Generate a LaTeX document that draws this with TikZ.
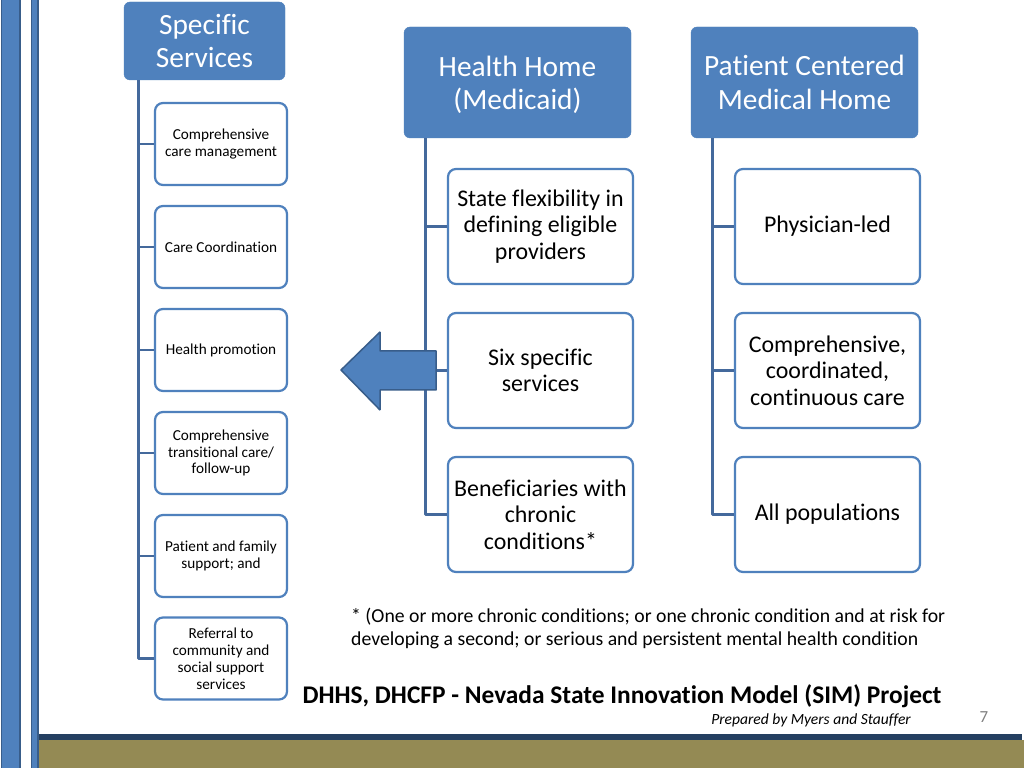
\documentclass[tikz,border=0pt]{standalone}
\usepackage{fontspec}
\setmainfont{Carlito}[Ligatures=NoCommon]
\definecolor{hdrblue}{HTML}{4F81BD}
\definecolor{lineblue}{HTML}{44699C}
\definecolor{edgeblue}{HTML}{385D8A}
\definecolor{navyline}{HTML}{254061}
\definecolor{oliveband}{HTML}{948A54}
\definecolor{pagegray}{HTML}{808080}
\begin{document}
\begin{tikzpicture}[line join=bevel,
  header/.style={rectangle, rounded corners=6bp, fill=hdrblue, draw=hdrblue,
    text=white, align=center, inner sep=0pt, font=\fontsize{29.5}{33.5}\selectfont},
  smallbox/.style={rectangle, rounded corners=8bp, draw=hdrblue, fill=white,
    line width=2.2bp, align=center, inner sep=0pt,
    minimum width=132bp, minimum height=82bp, font=\fontsize{15.3}{17}\selectfont},
  bigbox/.style={smallbox, minimum width=185bp, minimum height=115bp,
    font=\fontsize{24}{26.5}\selectfont},
  conn/.style={draw=lineblue, line width=2.8bp},
  ]
\useasboundingbox (0,0) rectangle (1024bp,768bp);
%% frame
\fill[white] (0,0) rectangle (1024bp,768bp);
\filldraw[fill=hdrblue, draw=edgeblue, line width=1.2bp] (1.5bp,-1bp) rectangle (20bp,769bp);
\filldraw[fill=hdrblue, draw=edgeblue, line width=1.2bp] (31.5bp,-1bp) rectangle (38bp,769bp);
\fill[oliveband] (38.6bp,0) rectangle (1024bp,28bp);
\fill[navyline] (38.6bp,28bp) rectangle (1022bp,34bp);
%%
  % Node: ss
  \node[header, minimum width=161bp, minimum height=78bp] (ss) at (204.5bp,727bp) {Specific\\Services};
  % Node: hh
  \node[header, minimum width=227bp, minimum height=111bp, text depth=0pt] (hh) at (517.5bp,685.5bp) {Health Home\\(Medicaid)};
  % Node: pc
  \node[header, minimum width=227bp, minimum height=111bp] (pc) at (804.5bp,685.5bp) {Patient Centered\\Medical Home};
  % Nodes: ss1 .. ss6
  \node[smallbox] (ss1) at (221bp,624bp) {Comprehensive\\care management};
  \node[smallbox] (ss2) at (221bp,521bp) {Care Coordination};
  \node[smallbox] (ss3) at (221bp,418bp) {Health promotion};
  \node[smallbox] (ss4) at (221bp,315bp) {Comprehensive\\transitional care/\\follow-up};
  \node[smallbox] (ss5) at (221bp,212bp) {Patient and family\\support; and};
  \node[smallbox] (ss6) at (221bp,109.5bp) {Referral to\\community and\\social support\\services};
  % Nodes: hh1 .. hh3
  \node[bigbox] (hh1) at (540.5bp,541.5bp) {State flexibility in\\defining eligible\\providers};
  \node[bigbox] (hh2) at (540.5bp,397.5bp) {Six specific\\services};
  \node[bigbox] (hh3) at (540.5bp,253.5bp) {Beneficiaries with\\chronic\\conditions*};
  % Nodes: pc1 .. pc3
  \node[bigbox] (pc1) at (827.5bp,541.5bp) {Physician-led};
  \node[bigbox] (pc2) at (827.5bp,397.5bp) {Comprehensive,\\coordinated,\\continuous care};
  \node[bigbox] (pc3) at (827.5bp,253.5bp) {All populations};
  % Edges: ss -> ss1 .. ss6
  \foreach \k in {1,...,6}
    \draw[conn] ([xshift=15bp]ss.south west) |- (ss\k.west);
  % Edges: hh -> hh1 .. hh3, pc -> pc1 .. pc3
  \foreach \k in {1,2,3} {
    \draw[conn] ([xshift=22bp]hh.south west) |- (hh\k.west);
    \draw[conn] ([xshift=22bp]pc.south west) |- (pc\k.west);
  }
  % Block arrow
  \filldraw[fill=hdrblue, draw=edgeblue, line width=1.5bp]
    (341bp,398bp) -- (380bp,436bp) -- (380bp,417bp) -- (436bp,417bp)
    -- (436bp,378bp) -- (380bp,378bp) -- (380bp,358bp) -- cycle;
  % Texts
  \node[anchor=west, align=left, inner sep=0pt, font=\fontsize{19.8}{23.5}\selectfont] (note) at (351bp,139.5bp)
    {* (One or more chronic conditions; or one chronic condition and at risk for\\developing a second; or serious and persistent mental health condition};
  \node[inner sep=0pt, font=\bfseries\fontsize{25.5}{28}\selectfont] (title) at (622bp,71.5bp)
    {DHHS, DHCFP - Nevada State Innovation Model (SIM) Project};
  \node[anchor=east, inner sep=0pt, font=\itshape\fontsize{15.6}{16}\selectfont] (prep) at (911bp,47.5bp)
    {Prepared by Myers and Stauffer};
  \node[inner sep=0pt, text=pagegray, font=\fontsize{17}{18}\selectfont] (pgno) at (984bp,51bp) {7};
%
\end{tikzpicture}
\end{document}
